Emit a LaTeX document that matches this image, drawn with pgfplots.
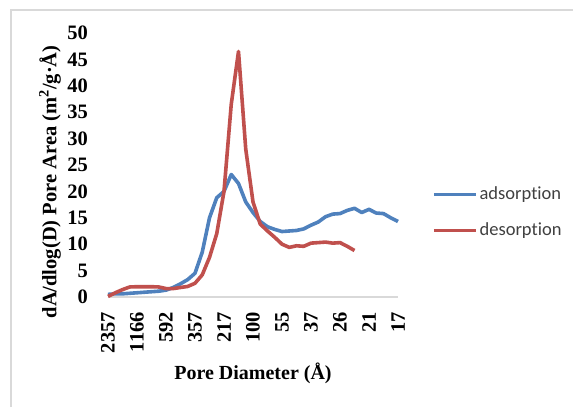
\documentclass[border=0pt]{standalone}
\usepackage{fontspec}
\setmainfont{Liberation Serif}
\newfontfamily\legfont[Ligatures=NoCommon]{Carlito}
\usepackage{pgfplots}
\pgfplotsset{compat=1.18}
\definecolor{adsblue}{RGB}{79,129,189}
\definecolor{desred}{RGB}{192,80,77}
\definecolor{framegray}{RGB}{217,217,217}
\definecolor{legtext}{RGB}{64,64,64}
\begin{document}
\begin{tikzpicture}[x=1pt,y=1pt]
\path[use as bounding box] (0,0) rectangle (573,407);
\draw[framegray, line width=1.5pt] (11,0) -- (11,397) -- (573,397);
\begin{axis}[
  at={(108pt,110pt)}, anchor=south west,
  scale only axis, width=290pt, height=264pt,
  xmin=0, xmax=40, ymin=0, ymax=50,
  axis x line=bottom, axis y line=left,
  y axis line style={draw=none},
  x axis line style={-, draw=framegray, line width=1.5pt},
  xtick={0,4,...,40},
  xticklabels={2357,1166,592,357,217,100,55,37,26,21,17},
  ytick={0,5,...,50},
  major tick length=0pt,
  tick style={draw=none},
  /pgf/number format/assume math mode=true,
  xticklabel style={rotate=90, anchor=east, inner sep=0pt, font=\fontsize{20.5}{24}\selectfont\bfseries},
  yticklabel style={anchor=east, inner sep=0pt, font=\fontsize{20.5}{24}\selectfont\bfseries},
  xticklabel shift=15pt, yticklabel shift=20pt,
  xlabel={Pore Diameter (Å)},
  ylabel={dA/dlog(D) Pore Area (m\textsuperscript{2}/g·Å)},
  xlabel style={at={(axis description cs:0.5,-0.288)}, anchor=center, font=\fontsize{20}{24}\selectfont\bfseries},
  ylabel style={at={(axis description cs:-0.2,0.436)}, anchor=center, font=\fontsize{20.5}{24}\selectfont\bfseries},
  legend image code/.code={\draw[#1, line width=3.5pt] (0pt,0pt) -- (42pt,0pt);},
  legend style={at={(axis description cs:1.117,0.32)}, anchor=west, draw=none, fill=none, inner sep=0pt,
    row sep=15pt, font=\legfont\fontsize{18.5}{22}\selectfont\color{legtext},
    nodes={inner sep=2pt, text height=13pt, text depth=4pt}},
  legend cell align=left,
  clip=false,
]
\addplot[adsblue, line width=3.6pt, line join=round] coordinates {
(0,0.5) (1,0.6) (2,0.6) (3,0.7) (4,0.8) (5,0.9) (6,1.0) (7,1.1) (8,1.3) (9,1.8)
(10,2.5) (11,3.3) (12,4.5) (13,8.5) (14,15) (15,18.8) (16,20) (17,23.2) (18,21.5) (19,18)
(20,16) (21,14.3) (22,13.3) (23,12.8) (24,12.4) (25,12.5) (26,12.6) (27,12.9) (28,13.6) (29,14.2)
(30,15.2) (31,15.7) (32,15.8) (33,16.4) (34,16.8) (35,16.0) (36,16.6) (37,15.9) (38,15.8) (39,15.0)
(40,14.3)
};
\addlegendentry{adsorption}
\addplot[desred, line width=3.6pt, line join=round] coordinates {
(0,0.1) (1,0.8) (2,1.4) (3,1.9) (4,1.95) (5,1.95) (6,1.95) (7,1.9) (8,1.6) (9,1.6)
(10,1.8) (11,2.0) (12,2.6) (13,4.2) (14,7.5) (15,12) (16,20) (17,36.5) (18,46.5) (19,28)
(20,18) (21,13.8) (22,12.5) (23,11.3) (24,10) (25,9.4) (26,9.7) (27,9.6) (28,10.2) (29,10.3)
(30,10.4) (31,10.2) (32,10.3) (33,9.6) (34,8.8)
};
\addlegendentry{desorption}
\end{axis}
\end{tikzpicture}
\end{document}
